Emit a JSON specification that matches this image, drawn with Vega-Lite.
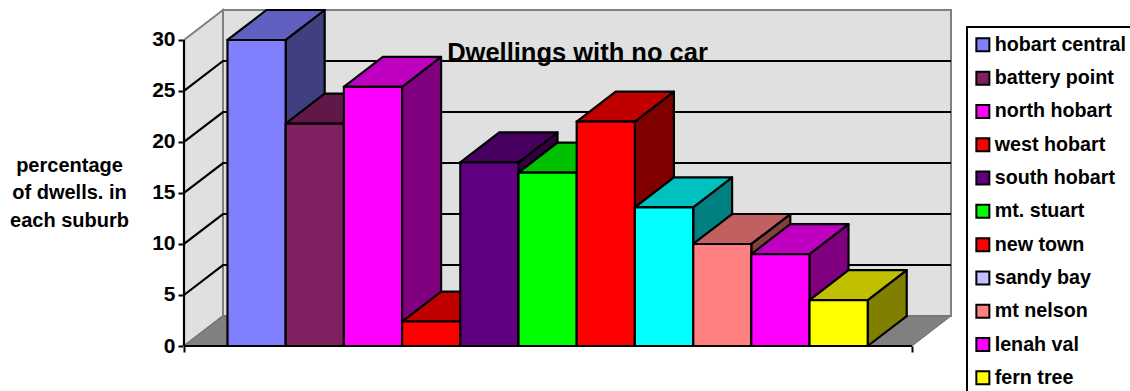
{
  "$schema": "https://vega.github.io/schema/vega-lite/v6.json",
  "width": 767,
  "height": 336,
  "padding": {"left": 184, "top": 10, "right": 179, "bottom": 45},
  "autosize": {"type": "none"},
  "background": "white",
  "title": {"text": "Dwellings with no car", "anchor": "middle", "frame": "group", "offset": 0, "dx": 10, "dy": 60, "font": "Liberation Sans", "fontSize": 25.5, "fontWeight": "bold", "color": "black"},
  "config": {
    "view": {"stroke": null},
    "font": "Liberation Sans",
    "legend": {"strokeWidth": 2}
  },
  "datasets": {
    "suburbs": [
      {"suburb": "hobart central", "pct": 30},
      {"suburb": "battery point", "pct": 21.8},
      {"suburb": "north hobart", "pct": 25.4},
      {"suburb": "west hobart", "pct": 2.4},
      {"suburb": "south hobart", "pct": 18},
      {"suburb": "mt. stuart", "pct": 17},
      {"suburb": "new town", "pct": 22},
      {"suburb": "sandy bay", "pct": 13.6},
      {"suburb": "mt nelson", "pct": 10},
      {"suburb": "lenah val", "pct": 9},
      {"suburb": "fern tree", "pct": 4.5}
    ],
    "gridTicks": [{"tick": 5}, {"tick": 10}, {"tick": 15}, {"tick": 20}, {"tick": 25}]
  },
  "resolve": {"scale": {"color": "independent"}},
  "layer": [
    {
      "data": {"values": [{"part": "back wall"}]},
      "mark": {"type": "rect", "fill": "#e0e0e0", "stroke": "#808080", "strokeWidth": 2},
      "encoding": {
        "x": {"datum": -0.077, "type": "quantitative", "scale": {"domain": [-0.747, 12.431], "nice": false, "zero": false},
          "axis": {"values": [-0.747, 11.76], "labels": false, "domain": false, "grid": false, "title": null, "tickColor": "black", "tickWidth": 2, "tickSize": 6}},
        "x2": {"datum": 12.431},
        "y": {"datum": 2.94, "type": "quantitative", "scale": {"domain": [0, 32.94], "nice": false, "zero": false},
          "axis": {"values": [0, 5, 10, 15, 20, 25, 30], "domain": false, "grid": false, "tickColor": "black", "tickWidth": 2, "tickSize": 6,
            "labelFont": "Liberation Sans", "labelFontSize": 21, "labelFontWeight": "bold", "labelColor": "black", "labelPadding": 3,
            "title": ["percentage", "of dwells. in", "each suburb"], "titleFont": "Liberation Sans", "titleFontSize": 20, "titleFontWeight": "bold", "titleColor": "black",
            "titleAngle": 0, "titleAlign": "center", "titleBaseline": "middle", "titleLineHeight": 27.5, "titleX": -115, "titleY": 155}},
        "y2": {"datum": 32.94}
      }
    },
    {
      "data": {"values": [{"part": "left wall"}]},
      "transform": [
        {"calculate": "[0, 1]", "as": "t"},
        {"flatten": ["t"]},
        {"calculate": "-0.747 + 0.67 * datum.t", "as": "px"},
        {"calculate": "2.94 * datum.t", "as": "lo"},
        {"calculate": "30 + 2.94 * datum.t", "as": "hi"}
      ],
      "mark": {"type": "area", "orient": "vertical", "fill": "#e0e0e0", "stroke": "#808080", "strokeWidth": 2},
      "encoding": {
        "x": {"field": "px", "type": "quantitative"},
        "y": {"field": "lo", "type": "quantitative"},
        "y2": {"field": "hi"}
      }
    },
    {
      "data": {"values": [{"part": "floor"}]},
      "transform": [
        {"calculate": "[0, 1]", "as": "t"},
        {"flatten": ["t"]},
        {"calculate": "-0.747 + 0.67 * datum.t", "as": "lo"},
        {"calculate": "11.761 + 0.67 * datum.t", "as": "hi"},
        {"calculate": "2.94 * datum.t", "as": "py"}
      ],
      "mark": {"type": "area", "orient": "horizontal", "fill": "#808080", "stroke": "#6e6e6e", "strokeWidth": 1},
      "encoding": {
        "x": {"field": "lo", "type": "quantitative"},
        "x2": {"field": "hi"},
        "y": {"field": "py", "type": "quantitative"}
      }
    },
    {
      "data": {"name": "gridTicks"},
      "transform": [
        {"calculate": "[0, 1, 2]", "as": "k"},
        {"flatten": ["k"]},
        {"calculate": "datum.k == 0 ? -0.747 : datum.k == 1 ? -0.077 : 12.431", "as": "gx"},
        {"calculate": "datum.k == 0 ? datum.tick : datum.tick + 2.94", "as": "gy"}
      ],
      "mark": {"type": "line", "color": "black", "strokeWidth": 2.2},
      "encoding": {
        "x": {"field": "gx", "type": "quantitative"},
        "y": {"field": "gy", "type": "quantitative"},
        "detail": {"field": "tick"},
        "order": {"field": "k"}
      }
    },
    {
      "data": {"name": "suburbs"},
      "transform": [
        {"window": [{"op": "row_number", "as": "n"}]},
        {"calculate": "[0, 1]", "as": "t"},
        {"flatten": ["t"]},
        {"calculate": "datum.n + 0.67 * datum.t", "as": "sx"},
        {"calculate": "2.94 * datum.t", "as": "lo"},
        {"calculate": "datum.pct + 2.94 * datum.t", "as": "hi"}
      ],
      "mark": {"type": "area", "orient": "vertical", "stroke": "black", "strokeWidth": 2.2, "strokeJoin": "round"},
      "encoding": {
        "x": {"field": "sx", "type": "quantitative"},
        "y": {"field": "lo", "type": "quantitative"},
        "y2": {"field": "hi"},
        "color": {"field": "suburb", "type": "nominal", "legend": null,
          "scale": {"domain": ["hobart central", "battery point", "north hobart", "west hobart", "south hobart", "mt. stuart", "new town", "sandy bay", "mt nelson", "lenah val", "fern tree"],
            "range": ["#404080", "#401030", "#800080", "#800000", "#300040", "#008000", "#800000", "#008080", "#804040", "#800080", "#808000"]}}
      }
    },
    {
      "data": {"name": "suburbs"},
      "transform": [
        {"window": [{"op": "row_number", "as": "n"}]},
        {"calculate": "[0, 1]", "as": "t"},
        {"flatten": ["t"]},
        {"calculate": "datum.n - 1 + 0.67 * datum.t", "as": "lo"},
        {"calculate": "datum.n + 0.67 * datum.t", "as": "hi"},
        {"calculate": "datum.pct + 2.94 * datum.t", "as": "ty"}
      ],
      "mark": {"type": "area", "orient": "horizontal", "stroke": "black", "strokeWidth": 2.2, "strokeJoin": "round"},
      "encoding": {
        "x": {"field": "lo", "type": "quantitative"},
        "x2": {"field": "hi"},
        "y": {"field": "ty", "type": "quantitative"},
        "color": {"field": "suburb", "type": "nominal", "legend": null,
          "scale": {"domain": ["hobart central", "battery point", "north hobart", "west hobart", "south hobart", "mt. stuart", "new town", "sandy bay", "mt nelson", "lenah val", "fern tree"],
            "range": ["#6060c0", "#601848", "#c000c0", "#c00000", "#480060", "#00c000", "#c00000", "#00c0c0", "#c06060", "#c000c0", "#c0c000"]}}
      }
    },
    {
      "data": {"name": "suburbs"},
      "transform": [
        {"window": [{"op": "row_number", "as": "n"}]},
        {"calculate": "datum.n - 1", "as": "left"}
      ],
      "mark": {"type": "rect", "stroke": "black", "strokeWidth": 2.2},
      "encoding": {
        "x": {"field": "left", "type": "quantitative"},
        "x2": {"field": "n"},
        "y": {"field": "pct", "type": "quantitative"},
        "y2": {"datum": 0},
        "color": {"field": "suburb", "type": "nominal",
          "scale": {"domain": ["hobart central", "battery point", "north hobart", "west hobart", "south hobart", "mt. stuart", "new town", "sandy bay", "mt nelson", "lenah val", "fern tree"],
            "range": ["#8080ff", "#802060", "#ff00ff", "#ff0000", "#600080", "#00ff00", "#ff0000", "#c0c0ff", "#ff8080", "#ff00ff", "#ffff00"]},
          "legend": {"title": null, "orient": "none", "legendX": 783, "legendY": 17, "padding": 8, "strokeColor": "black",
            "symbolType": "square", "symbolSize": 169, "symbolOffset": -2, "symbolStrokeColor": "black", "symbolStrokeWidth": 2, "symbolOpacity": 1,
            "labelFont": "Liberation Sans", "labelFontSize": 19.7, "labelFontWeight": "bold", "labelColor": "black", "labelOffset": 2,
            "rowPadding": 11.3, "labelLimit": 200}}
      }
    },
    {
      "data": {"name": "suburbs"},
      "transform": [
        {"window": [{"op": "row_number", "as": "n"}]},
        {"calculate": "datum.n - 1", "as": "left"},
        {"filter": "datum.suburb == 'sandy bay'"}
      ],
      "mark": {"type": "rect", "fill": "#00ffff", "stroke": "black", "strokeWidth": 2.2},
      "encoding": {
        "x": {"field": "left", "type": "quantitative"},
        "x2": {"field": "n"},
        "y": {"field": "pct", "type": "quantitative"},
        "y2": {"datum": 0}
      }
    },
    {
      "data": {"values": [{"axis": "value"}]},
      "mark": {"type": "rule", "color": "black", "strokeWidth": 2.2},
      "encoding": {
        "x": {"datum": -0.747, "type": "quantitative"},
        "y": {"datum": 0, "type": "quantitative"},
        "y2": {"datum": 30}
      }
    },
    {
      "data": {"values": [{"axis": "category"}]},
      "mark": {"type": "rule", "color": "black", "strokeWidth": 2.2},
      "encoding": {
        "x": {"datum": -0.747, "type": "quantitative"},
        "x2": {"datum": 11.761},
        "y": {"datum": 0, "type": "quantitative"}
      }
    }
  ]
}
